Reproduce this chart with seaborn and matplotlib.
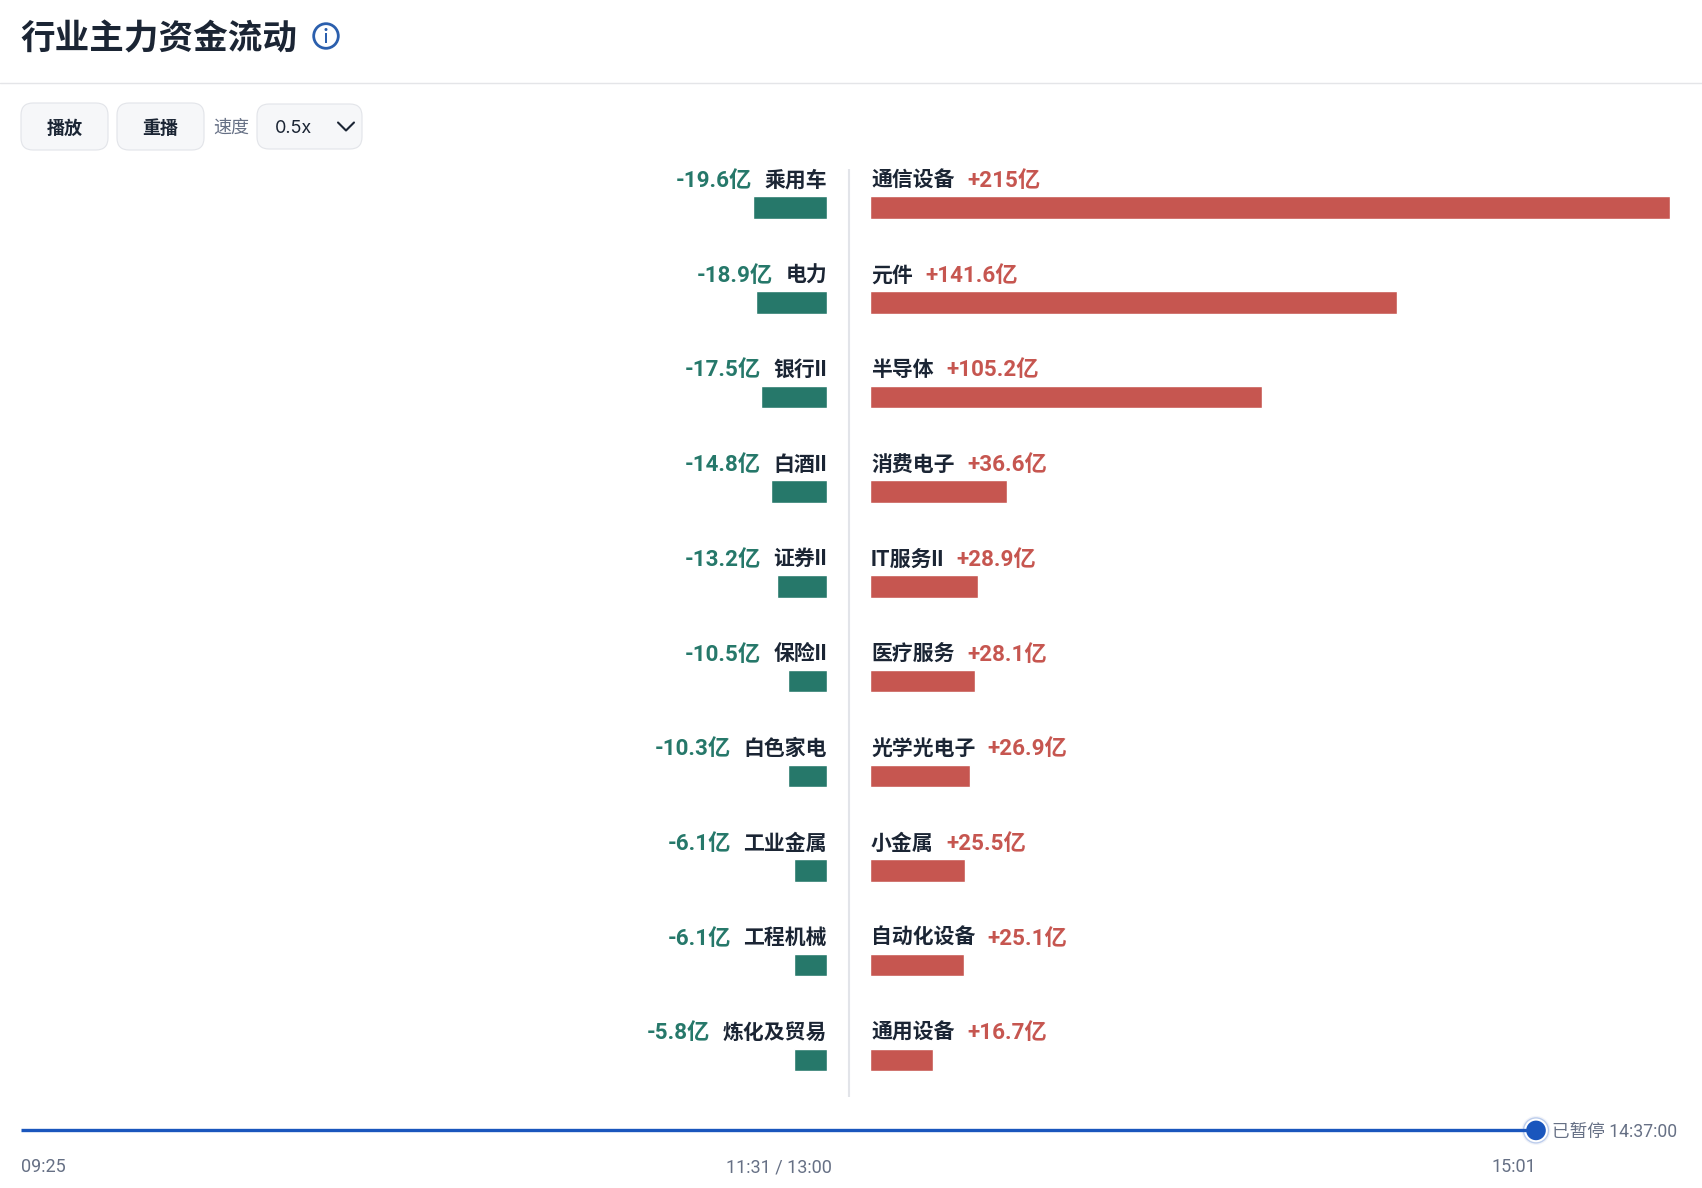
import matplotlib
matplotlib.use("Agg")
import matplotlib.pyplot as plt
from matplotlib.patches import FancyBboxPatch, Circle, Rectangle
import pandas as pd
import seaborn as sns

sns.set_theme(style="white")
FONT = ["Roboto", "Noto Sans CJK SC", "DejaVu Sans"]
NAMEF = ["Inter", "Noto Sans CJK SC", "DejaVu Sans"]
CJK = ["Noto Sans CJK SC", "DejaVu Sans"]
plt.rcParams["font.family"] = FONT

in_names = ["通信设备", "元件", "半导体", "消费电子", "IT服务II", "医疗服务", "光学光电子", "小金属", "自动化设备", "通用设备"]
in_labels = ["+215亿", "+141.6亿", "+105.2亿", "+36.6亿", "+28.9亿", "+28.1亿", "+26.9亿", "+25.5亿", "+25.1亿", "+16.7亿"]
in_values = [215, 141.6, 105.2, 36.6, 28.9, 28.1, 26.9, 25.5, 25.1, 16.7]
out_names = ["乘用车", "电力", "银行II", "白酒II", "证券II", "保险II", "白色家电", "工业金属", "工程机械", "炼化及贸易"]
out_labels = ["-19.6亿", "-18.9亿", "-17.5亿", "-14.8亿", "-13.2亿", "-10.5亿", "-10.3亿", "-6.1亿", "-6.1亿", "-5.8亿"]
# bar lengths as drawn in the picture (the short outflow bars are longer than their labels)
out_lengths = [19.6, 18.9, 17.5, 14.8, 13.2, 10.5, 10.3, 8.7, 8.7, 8.7]

W, H = 1702, 1188
GREEN, RED, INK = "#26786a", "#c65650", "#1b2534"
GREY, BLUE, LINE = "#667085", "#1a56bd", "#e2e4e9"
UNIT_R = 3.72         # pixels per 亿
UNIT_L = 3.76
ROW = 94.7            # pixels per row
TOP = 207.6 - ROW / 2
BOT = TOP + ROW * 10
X_R = 870.4
NAME_PT = 15
VAL_PT = 16.1

fig = plt.figure(figsize=(W / 100, H / 100), dpi=100, facecolor="white")


def axes_px(x0, x1):
    return fig.add_axes([x0 / W, 1 - BOT / H, (x1 - x0) / W, (BOT - TOP) / H])


axr = axes_px(X_R, W)
axl = axes_px(0, 827)
sns.barplot(data=pd.DataFrame({"n": in_names, "v": in_values}), y="n", x="v", color=RED,
            saturation=1, width=0.238, ax=axr)
sns.barplot(data=pd.DataFrame({"n": out_names, "v": out_lengths}), y="n", x="v", color=GREEN,
            saturation=1, width=0.238, ax=axl)
axr.set_xlim(0, (W - X_R) / UNIT_R)
axl.set_xlim(827 / UNIT_L, 0)
for ax in (axr, axl):
    ax.axis("off")

ui = fig.add_axes([0, 0, 1, 1], zorder=5)
ui.set_xlim(0, W)
ui.set_ylim(H, 0)
ui.axis("off")
ui.patch.set_alpha(0)

renderer = fig.canvas.get_renderer()


def width(s, **kw):
    t = ui.text(0, 0, s, **kw)
    w = t.get_window_extent(renderer).width
    t.remove()
    return w


for i in range(10):
    yc = 207.6 + ROW * i - 29
    name_kw = dict(fontsize=NAME_PT, fontweight="bold", family=NAMEF)
    # right column
    ui.text(871, yc, in_names[i], color=INK, va="center_baseline", ha="left", **name_kw)
    w = width(in_names[i], **name_kw)
    ui.text(871 + w + 12.5, yc, in_labels[i], color=RED, fontsize=VAL_PT, fontweight="bold",
            va="center_baseline", ha="left")
    # left column
    ui.text(827, yc, out_names[i], color=INK, va="center_baseline", ha="right", **name_kw)
    w = width(out_names[i], **name_kw)
    ui.text(827 - w - 12.5, yc, out_labels[i], color=GREEN, fontsize=VAL_PT, fontweight="bold",
            va="center_baseline", ha="right")

# centre divider
ui.plot([849, 849], [169, 1097], color=LINE, lw=1.5, solid_capstyle="butt")

# header
ui.text(20.5, 36, "行业主力资金流动", color=INK, fontsize=24.9, fontweight="bold", family=CJK, va="center_baseline")
ui.add_patch(Circle((326, 36), 12.3, fc="white", ec="#2b5fad", lw=2))
ui.add_patch(Rectangle((324.8, 33), 2.4, 10, fc="#2b5fad", ec="none"))
ui.add_patch(Circle((326, 29.5), 1.5, fc="#2b5fad", ec="none"))
ui.plot([0, W], [83, 83], color="#e4e5e8", lw=1.0)


# controls
def box(x0, x1, y0, y1):
    ui.add_patch(FancyBboxPatch((x0 + 12, y0 + 12), x1 - x0 - 24, y1 - y0 - 24,
                                boxstyle="round,pad=12,rounding_size=12",
                                fc="#f6f7f9", ec=LINE, lw=0.8))


box(21, 108, 103, 150)
box(117, 204, 103, 150)
box(257, 362, 104, 149)
ui.text(64.5, 126, "播放", color=INK, fontsize=13, fontweight="bold", family=CJK, ha="center", va="center_baseline")
ui.text(160.5, 126, "重播", color=INK, fontsize=13, fontweight="bold", family=CJK, ha="center", va="center_baseline")
ui.text(231, 126, "速度", color=GREY, fontsize=13, family=CJK, ha="center", va="center_baseline")
ui.text(275, 126.5, "0.5x", color=INK, fontsize=13, family=NAMEF, va="center_baseline")
ui.plot([338, 346, 354], [122.5, 130.5, 122.5], color=INK, lw=1.5)

# timeline
SY = 1130.4
ui.plot([21, 1536], [SY, SY], color=BLUE, lw=2.4, solid_capstyle="butt")
ui.add_patch(Circle((1536, SY), 14.5, fc="#eef1f8", ec="none", alpha=0.8))
ui.add_patch(Circle((1536, SY), 12.5, fc="white", ec="#bccdec", lw=1))
ui.add_patch(Circle((1536, SY), 9.8, fc=BLUE, ec="none"))
ui.text(1552, 1137, "已暂停 14:37:00", color=GREY, fontsize=12.7, va="baseline")
ui.text(21.5, 1172, "09:25", color=GREY, fontsize=13, va="baseline")
ui.text(779, 1172, "11:31 / 13:00", color=GREY, fontsize=13, ha="center", va="baseline")
ui.text(1513.5, 1172, "15:01", color=GREY, fontsize=13, ha="center", va="baseline")

fig.savefig("out.png", dpi=100, facecolor="white")
